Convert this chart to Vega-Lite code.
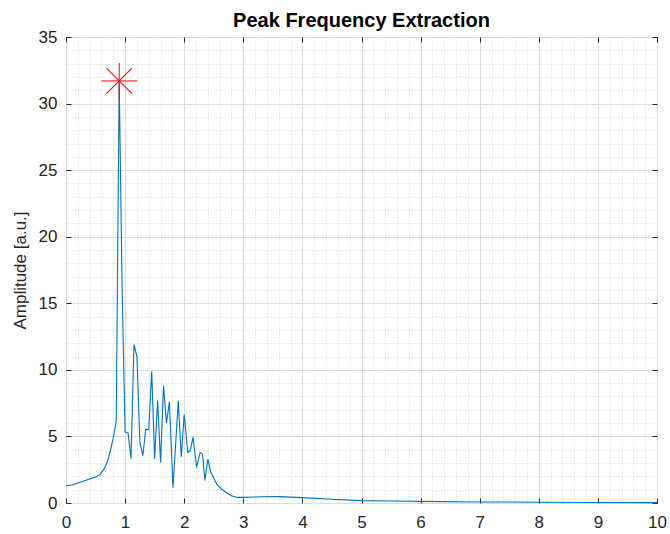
{
  "$schema": "https://vega.github.io/schema/vega-lite/v6.json",
  "width": 591,
  "height": 466,
  "autosize": {"type": "none"},
  "padding": {"left": 66, "top": 37, "right": 13, "bottom": 31},
  "background": "white",
  "config": {
    "view": {"stroke": "#262626", "strokeWidth": 1},
    "font": "Liberation Sans",
    "axis": {"labelFont": "Liberation Sans", "titleFont": "Liberation Sans", "labelColor": "#262626", "titleColor": "#262626"}
  },
  "title": {
    "text": "Peak Frequency Extraction",
    "font": "Liberation Sans",
    "fontSize": 20,
    "fontWeight": "bold",
    "color": "#000000",
    "offset": -3,
    "anchor": "middle"
  },
  "datasets": {
    "spectrum": [
      {"f": 0.0, "a": 1.3},
      {"f": 0.1, "a": 1.35},
      {"f": 0.2, "a": 1.5},
      {"f": 0.3, "a": 1.65},
      {"f": 0.4, "a": 1.8},
      {"f": 0.5, "a": 1.95},
      {"f": 0.58, "a": 2.15},
      {"f": 0.65, "a": 2.6},
      {"f": 0.7, "a": 3.1},
      {"f": 0.75, "a": 3.9},
      {"f": 0.8, "a": 4.9},
      {"f": 0.85, "a": 6.1},
      {"f": 0.9, "a": 31.7},
      {"f": 0.95, "a": 16.0},
      {"f": 1.0, "a": 5.35},
      {"f": 1.05, "a": 5.25},
      {"f": 1.1, "a": 3.35},
      {"f": 1.15, "a": 11.9},
      {"f": 1.2, "a": 11.0},
      {"f": 1.25, "a": 4.6},
      {"f": 1.3, "a": 3.55},
      {"f": 1.35, "a": 5.55},
      {"f": 1.4, "a": 5.5},
      {"f": 1.45, "a": 9.9},
      {"f": 1.5, "a": 3.3},
      {"f": 1.55, "a": 7.7},
      {"f": 1.6, "a": 3.05},
      {"f": 1.65, "a": 8.8},
      {"f": 1.7, "a": 6.0},
      {"f": 1.75, "a": 7.6},
      {"f": 1.81, "a": 1.15},
      {"f": 1.9, "a": 7.67},
      {"f": 1.95, "a": 3.45},
      {"f": 2.0, "a": 6.67},
      {"f": 2.06, "a": 3.8},
      {"f": 2.1, "a": 3.92},
      {"f": 2.15, "a": 4.92},
      {"f": 2.21, "a": 2.67},
      {"f": 2.27, "a": 3.8},
      {"f": 2.31, "a": 3.65},
      {"f": 2.35, "a": 1.7},
      {"f": 2.4, "a": 3.3},
      {"f": 2.45, "a": 2.3},
      {"f": 2.48, "a": 2.05},
      {"f": 2.55, "a": 1.42},
      {"f": 2.63, "a": 1.05},
      {"f": 2.72, "a": 0.75},
      {"f": 2.8, "a": 0.55},
      {"f": 2.9, "a": 0.42},
      {"f": 3.0, "a": 0.42},
      {"f": 3.3, "a": 0.47},
      {"f": 3.6, "a": 0.48},
      {"f": 4.0, "a": 0.4},
      {"f": 4.5, "a": 0.28},
      {"f": 5.0, "a": 0.18},
      {"f": 5.5, "a": 0.15},
      {"f": 6.0, "a": 0.12},
      {"f": 7.0, "a": 0.08},
      {"f": 8.0, "a": 0.06},
      {"f": 9.0, "a": 0.04},
      {"f": 10.0, "a": 0.03}
    ],
    "peak": [{"f": 0.9, "a": 31.7}]
  },
  "resolve": {"axis": {"x": "independent", "y": "independent"}},
  "layer": [
    {
      "data": {"name": "spectrum"},
      "mark": {"type": "line", "opacity": 0},
      "encoding": {
        "x": {"field": "f", "type": "quantitative", "scale": {"domain": [0, 10], "nice": false, "zero": false},
          "axis": {"orient": "bottom", "values": [0.2,0.4,0.6,0.8,1.2,1.4,1.6,1.8,2.2,2.4,2.6,2.8,3.2,3.4,3.6,3.8,4.2,4.4,4.6,4.8,5.2,5.4,5.6,5.8,6.2,6.4,6.6,6.8,7.2,7.4,7.6,7.8,8.2,8.4,8.6,8.8,9.2,9.4,9.6,9.8],
            "labels": false, "ticks": false, "domain": false, "title": null, "grid": true, "gridColor": "#d6d6d6", "gridDash": [1, 2], "gridWidth": 1}},
        "y": {"field": "a", "type": "quantitative", "scale": {"domain": [0, 35], "nice": false, "zero": false},
          "axis": {"orient": "left", "values": [1,2,3,4,6,7,8,9,11,12,13,14,16,17,18,19,21,22,23,24,26,27,28,29,31,32,33,34],
            "labels": false, "ticks": false, "domain": false, "title": null, "grid": true, "gridColor": "#d6d6d6", "gridDash": [1, 2], "gridWidth": 1}}
      }
    },
    {
      "data": {"name": "spectrum"},
      "mark": {"type": "line", "color": "#0072BD", "strokeWidth": 1.1},
      "encoding": {
        "x": {"field": "f", "type": "quantitative",
          "axis": {"orient": "bottom", "values": [0,1,2,3,4,5,6,7,8,9,10], "format": "d", "labelFontSize": 17, "labelPadding": 11, "ticks": false, "domain": false, "title": null, "grid": true, "gridColor": "#dcdcdc", "gridWidth": 1, "labelFlush": false, "labelOverlap": false}},
        "y": {"field": "a", "type": "quantitative",
          "axis": {"orient": "left", "values": [0,5,10,15,20,25,30,35], "format": "d", "labelFontSize": 17, "labelPadding": 9, "ticks": false, "domain": false, "grid": true, "gridColor": "#dcdcdc", "gridWidth": 1, "labelFlush": false, "labelOverlap": false,
            "title": "Amplitude [a.u.]", "titleFontSize": 17, "titleFontWeight": "normal", "titleAngle": -90, "titleAlign": "center", "titleBaseline": "alphabetic", "titleX": -41, "titleY": 233}}
      }
    },
    {
      "data": {"name": "spectrum"},
      "mark": {"type": "line", "opacity": 0},
      "encoding": {
        "x": {"field": "f", "type": "quantitative",
          "axis": {"orient": "top", "values": [0,1,2,3,4,5,6,7,8,9,10], "labels": false, "ticks": true, "tickSize": -5, "tickColor": "#262626", "domain": false, "grid": false, "title": null}},
        "y": {"field": "a", "type": "quantitative",
          "axis": {"orient": "right", "values": [0,5,10,15,20,25,30,35], "labels": false, "ticks": true, "tickSize": -5, "tickColor": "#262626", "domain": false, "grid": false, "title": null}}
      }
    },
    {
      "data": {"name": "peak"},
      "mark": {"type": "point", "shape": "M-1,0L1,0M0,-1L0,1", "size": 1296, "filled": false, "color": "#ff0000", "stroke": "#ff0000", "strokeWidth": 1, "opacity": 1},
      "encoding": {
        "x": {"field": "f", "type": "quantitative",
          "axis": {"orient": "bottom", "values": [0,1,2,3,4,5,6,7,8,9,10], "labels": false, "ticks": true, "tickSize": -5, "tickColor": "#262626", "domain": false, "grid": false, "title": null}},
        "y": {"field": "a", "type": "quantitative",
          "axis": {"orient": "left", "values": [0,5,10,15,20,25,30,35], "labels": false, "ticks": true, "tickSize": -5, "tickColor": "#262626", "domain": false, "grid": false, "title": null}}
      }
    },
    {
      "data": {"name": "peak"},
      "mark": {"type": "point", "shape": "M-1,0L1,0M0,-1L0,1", "angle": 45, "size": 1296, "filled": false, "color": "#ff0000", "stroke": "#ff0000", "strokeWidth": 1, "opacity": 1},
      "encoding": {
        "x": {"field": "f", "type": "quantitative", "axis": null},
        "y": {"field": "a", "type": "quantitative", "axis": null}
      }
    }
  ]
}
